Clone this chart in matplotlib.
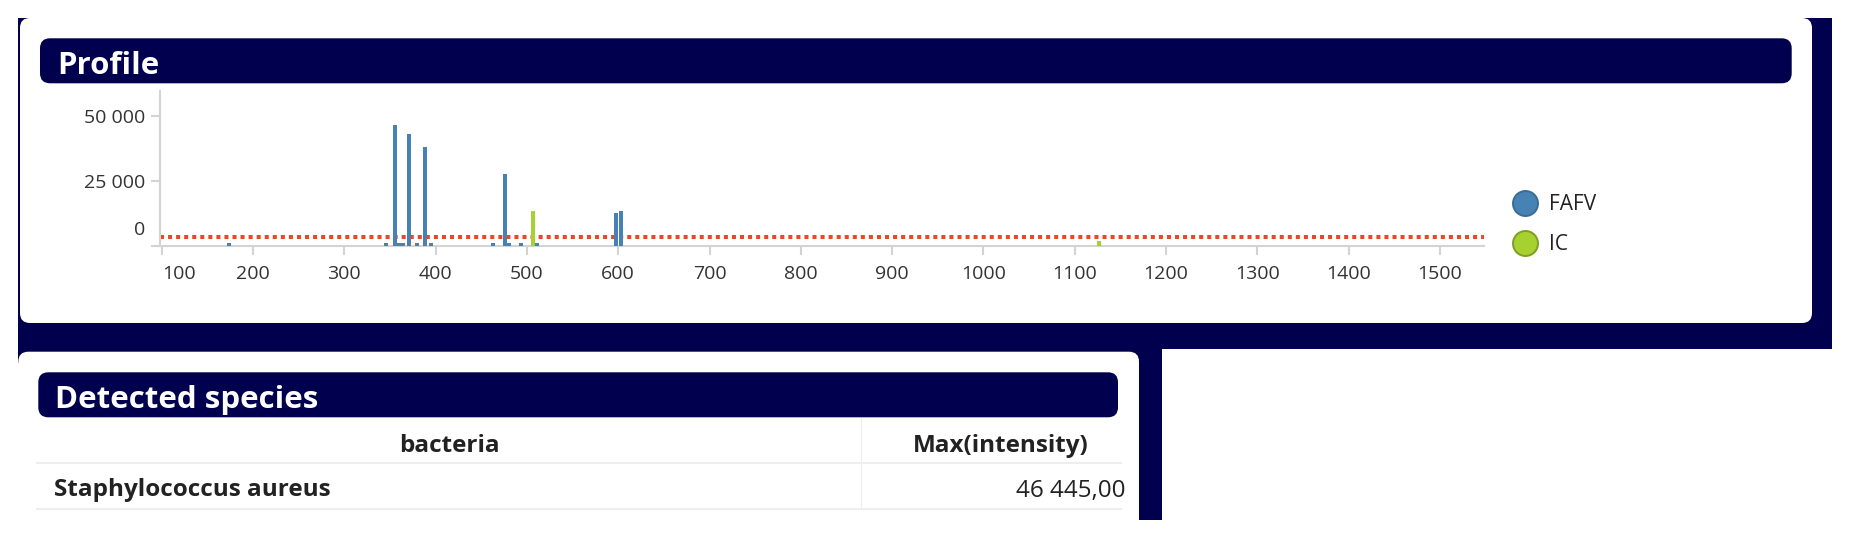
import matplotlib
matplotlib.use('Agg')
import matplotlib.pyplot as plt
from matplotlib.patches import FancyBboxPatch, Rectangle
from matplotlib.lines import Line2D

plt.rcParams['font.family'] = ['Open Sans', 'DejaVu Sans']

W, H = 1850, 539
NAVY = '#00004f'
BLUE = '#4682b4'
GREEN = '#a6d12e'
RED = '#e2492f'
GRID = '#d3d3d3'
TXT = '#222222'

# spectrum peaks (m/z, intensity)
fafv_mz = [174, 346, 355.5, 360, 364.5, 371, 379.5, 388.5, 395, 463, 476, 480.5, 493.5, 511, 598, 602.5]
fafv_int = [1550, 1550, 46445, 1550, 1550, 42900, 1550, 38300, 1550, 1550, 27700, 1550, 1550, 1550, 13100, 13850]
ic_mz = [506.5, 1126.5]
ic_int = [13850, 2450]
threshold = 4000

x_ticks = list(range(100, 1501, 100))
y_ticks = [25000, 50000]
y_tick_labels = ['25 000', '50 000']

series = ['FAFV', 'IC']
table_cols = ['bacteria', 'Max(intensity)']
species = ['Staphylococcus aureus']
max_intensity = [46445.00]


def fx(px):
    return px / W


def fy(py):
    return 1 - py / H


fig = plt.figure(figsize=(W / 100, H / 100), dpi=100)
fig.patch.set_facecolor('white')

# background layer in pixel units (y down)
bg = fig.add_axes([0, 0, 1, 1])
bg.set_xlim(0, W)
bg.set_ylim(H, 0)
bg.axis('off')
bg.set_zorder(0)


def rbox(x0, y0, x1, y1, color, r=10):
    bg.add_patch(FancyBboxPatch((x0, y0), x1 - x0, y1 - y0,
                                boxstyle='round,pad=0,rounding_size=%d' % r,
                                facecolor=color, edgecolor='none'))


# navy frame
bg.add_patch(Rectangle((18, 18), 1832 - 18, 349 - 18, facecolor=NAVY, edgecolor='none'))
bg.add_patch(Rectangle((18.3, 349), 1162 - 18.3, 14, facecolor=NAVY, edgecolor='none'))
bg.add_patch(Rectangle((1120, 349), 1162 - 1120, 520 - 349, facecolor=NAVY, edgecolor='none'))

# white panels
rbox(20, 18, 1812, 323, 'white')
rbox(18.3, 351.7, 1139, 580, 'white')

# title bars
rbox(40, 38.3, 1791.7, 83.3, NAVY)
bg.text(57, 74, 'Profile', color='white', fontsize=22.5, fontweight='bold', va='baseline')
rbox(38.3, 372.3, 1118, 417.3, NAVY)
bg.text(55, 408, 'Detected species', color='white', fontsize=22.5, fontweight='bold', va='baseline')

# table
bg.plot([37, 1121], [462.7, 462.7], color='#eeeeee', lw=1.5)
bg.plot([37, 1121], [509, 509], color='#eeeeee', lw=1.5)
bg.plot([860.5, 860.5], [418, 509], color='#eeeeee', lw=0.8)
bg.text(449, 451.5, table_cols[0], color=TXT, fontsize=17.5, fontweight='bold', ha='center', va='baseline')
bg.text(1001, 451.5, table_cols[1], color=TXT, fontsize=17.5, fontweight='bold', ha='center', va='baseline')
for i, (name, val) in enumerate(zip(species, max_intensity)):
    yb = 496.5 + i * 46
    bg.text(54, yb, name, color=TXT, fontsize=17.5, fontweight='bold', va='baseline')
    s = '{:,.2f}'.format(val).replace(',', ' ').replace('.', ',')
    bg.text(1126, yb, s, color=TXT, fontsize=17.5, ha='right', va='baseline')

# chart axes
left_px, right_px, top_px, bot_px = 151.7, 1484.3, 90.7, 245.7
ax = fig.add_axes([fx(left_px), fy(bot_px), fx(right_px) - fx(left_px), fy(top_px) - fy(bot_px)])
ax.set_zorder(2)
ax.patch.set_alpha(0)

ax.bar(fafv_mz, fafv_int, width=4.4, color=BLUE, zorder=3)
ax.bar(ic_mz, ic_int, width=4.4, color=GREEN, zorder=3)
ax.hlines(threshold, 98.14, 1548.5, colors=RED, lw=2.9, linestyles=(0, (1, 1)), zorder=2)

ax.set_xlim(89.05, 1548.5)
ax.set_ylim(500, 59600)
ax.spines['top'].set_visible(False)
ax.spines['right'].set_visible(False)
ax.spines['left'].set_position(('data', 98.14))
for sp in ['left', 'bottom']:
    ax.spines[sp].set_color(GRID)
    ax.spines[sp].set_linewidth(1.5)

ax.set_xticks(x_ticks)
ax.set_xticklabels([str(t) for t in x_ticks])
ax.get_xticklabels()[0].set_horizontalalignment('left')
ax.set_yticks(y_ticks)
ax.set_yticklabels(y_tick_labels)
ax.tick_params(axis='both', colors=GRID, labelcolor='#333333', labelsize=14,
               length=6.5, width=1.5, direction='out')
ax.tick_params(axis='x', pad=7.5)
ax.tick_params(axis='y', pad=4)

bg.text(145, 229.7, '0', color='#333333', fontsize=14, ha='right', va='center')

# legend
handles = [Line2D([], [], ls='none', marker='o', markersize=18, markeredgewidth=1.4,
                  markerfacecolor=BLUE, markeredgecolor='#3a6c98'),
           Line2D([], [], ls='none', marker='o', markersize=18, markeredgewidth=1.4,
                  markerfacecolor=GREEN, markeredgecolor='#7e9f22')]
fig.legend(handles, series, loc='center left', bbox_to_anchor=(fx(1512.5), fy(224.6)),
           frameon=False, fontsize=15, handlelength=1.2, handletextpad=0.55,
           borderpad=0, borderaxespad=0, labelspacing=0.92, labelcolor=TXT)

fig.savefig('out.png', dpi=100, facecolor='white')
